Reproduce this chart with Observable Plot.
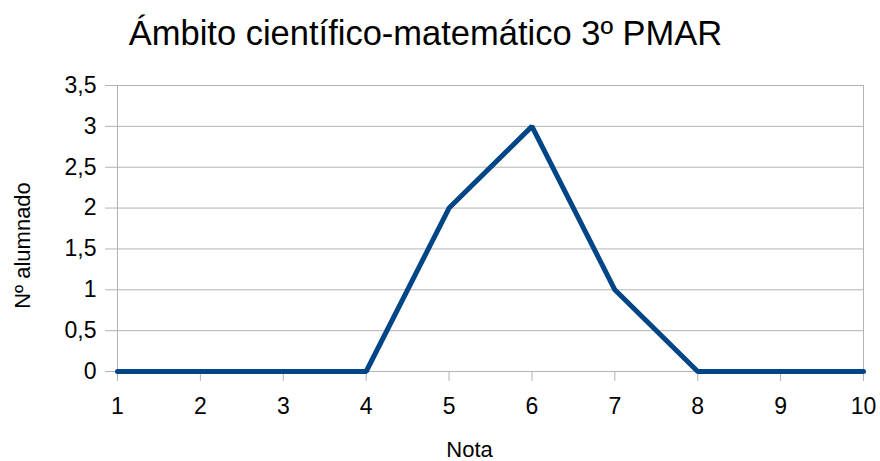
<!DOCTYPE html>
<html>
<head>
<meta charset="utf-8">
<script src="https://cdn.jsdelivr.net/npm/d3@7"></script>
<script src="https://cdn.jsdelivr.net/npm/@observablehq/plot@0.6"></script>
<style>
  body { margin: 0; background: #fff; }
  svg { font-family: "Liberation Sans", Arial, sans-serif; }
</style>
</head>
<body>
<div id="chart"></div>
<script>
const notas = [1, 2, 3, 4, 5, 6, 7, 8, 9, 10];
const alumnado = [0, 0, 0, 0, 2, 3, 1, 0, 0, 0];
const yTicks = [0, 0.5, 1, 1.5, 2, 2.5, 3, 3.5];
const title = "Ámbito científico-matemático 3º PMAR";
const xLabel = "Nota";
const yLabel = "Nº alumnado";

const data = notas.map((n, i) => ({nota: n, value: alumnado[i]}));
const fmt = d => String(d).replace(".", ",");

const chart = Plot.plot({
  width: 880,
  height: 461,
  marginLeft: 117,
  marginRight: 17,
  marginTop: 85,
  marginBottom: 90,
  style: {fontSize: "22px", fontFamily: "Liberation Sans, Arial, sans-serif", color: "#000", background: "#fff"},
  x: {domain: [1, 10]},
  y: {domain: [0, 3.5]},
  marks: [
    Plot.gridY(yTicks, {stroke: "#b3b3b3", strokeOpacity: 1, strokeWidth: 1}),
    Plot.ruleX([1, 10], {stroke: "#b3b3b3", strokeWidth: 1}),
    Plot.axisY(yTicks, {tickSize: 12, tickPadding: 9, tickFormat: fmt, stroke: "#b3b3b3", fill: "#000", fontSize: 23, label: null}),
    Plot.axisX(notas, {tickSize: 10, tickPadding: 16, tickFormat: d => String(d), stroke: "#b3b3b3", fill: "#000", fontSize: 23, label: null}),
    Plot.line(data, {x: "nota", y: "value", stroke: "#004586", strokeWidth: 5, strokeLinejoin: "miter"}),
    Plot.text([title], {frameAnchor: "top", dy: -65, dx: -65, fontSize: 34.5, fill: "#000", text: d => d}),
    Plot.text([xLabel], {frameAnchor: "bottom", dy: 85, dx: -21, fontSize: 22, fill: "#000", text: d => d}),
    Plot.text([yLabel], {frameAnchor: "left", textAnchor: "middle", lineAnchor: "middle", dx: -95, dy: 17, rotate: -90, fontSize: 22, fill: "#000", text: d => d})
  ]
});
document.getElementById("chart").appendChild(chart);
</script>
</body>
</html>
